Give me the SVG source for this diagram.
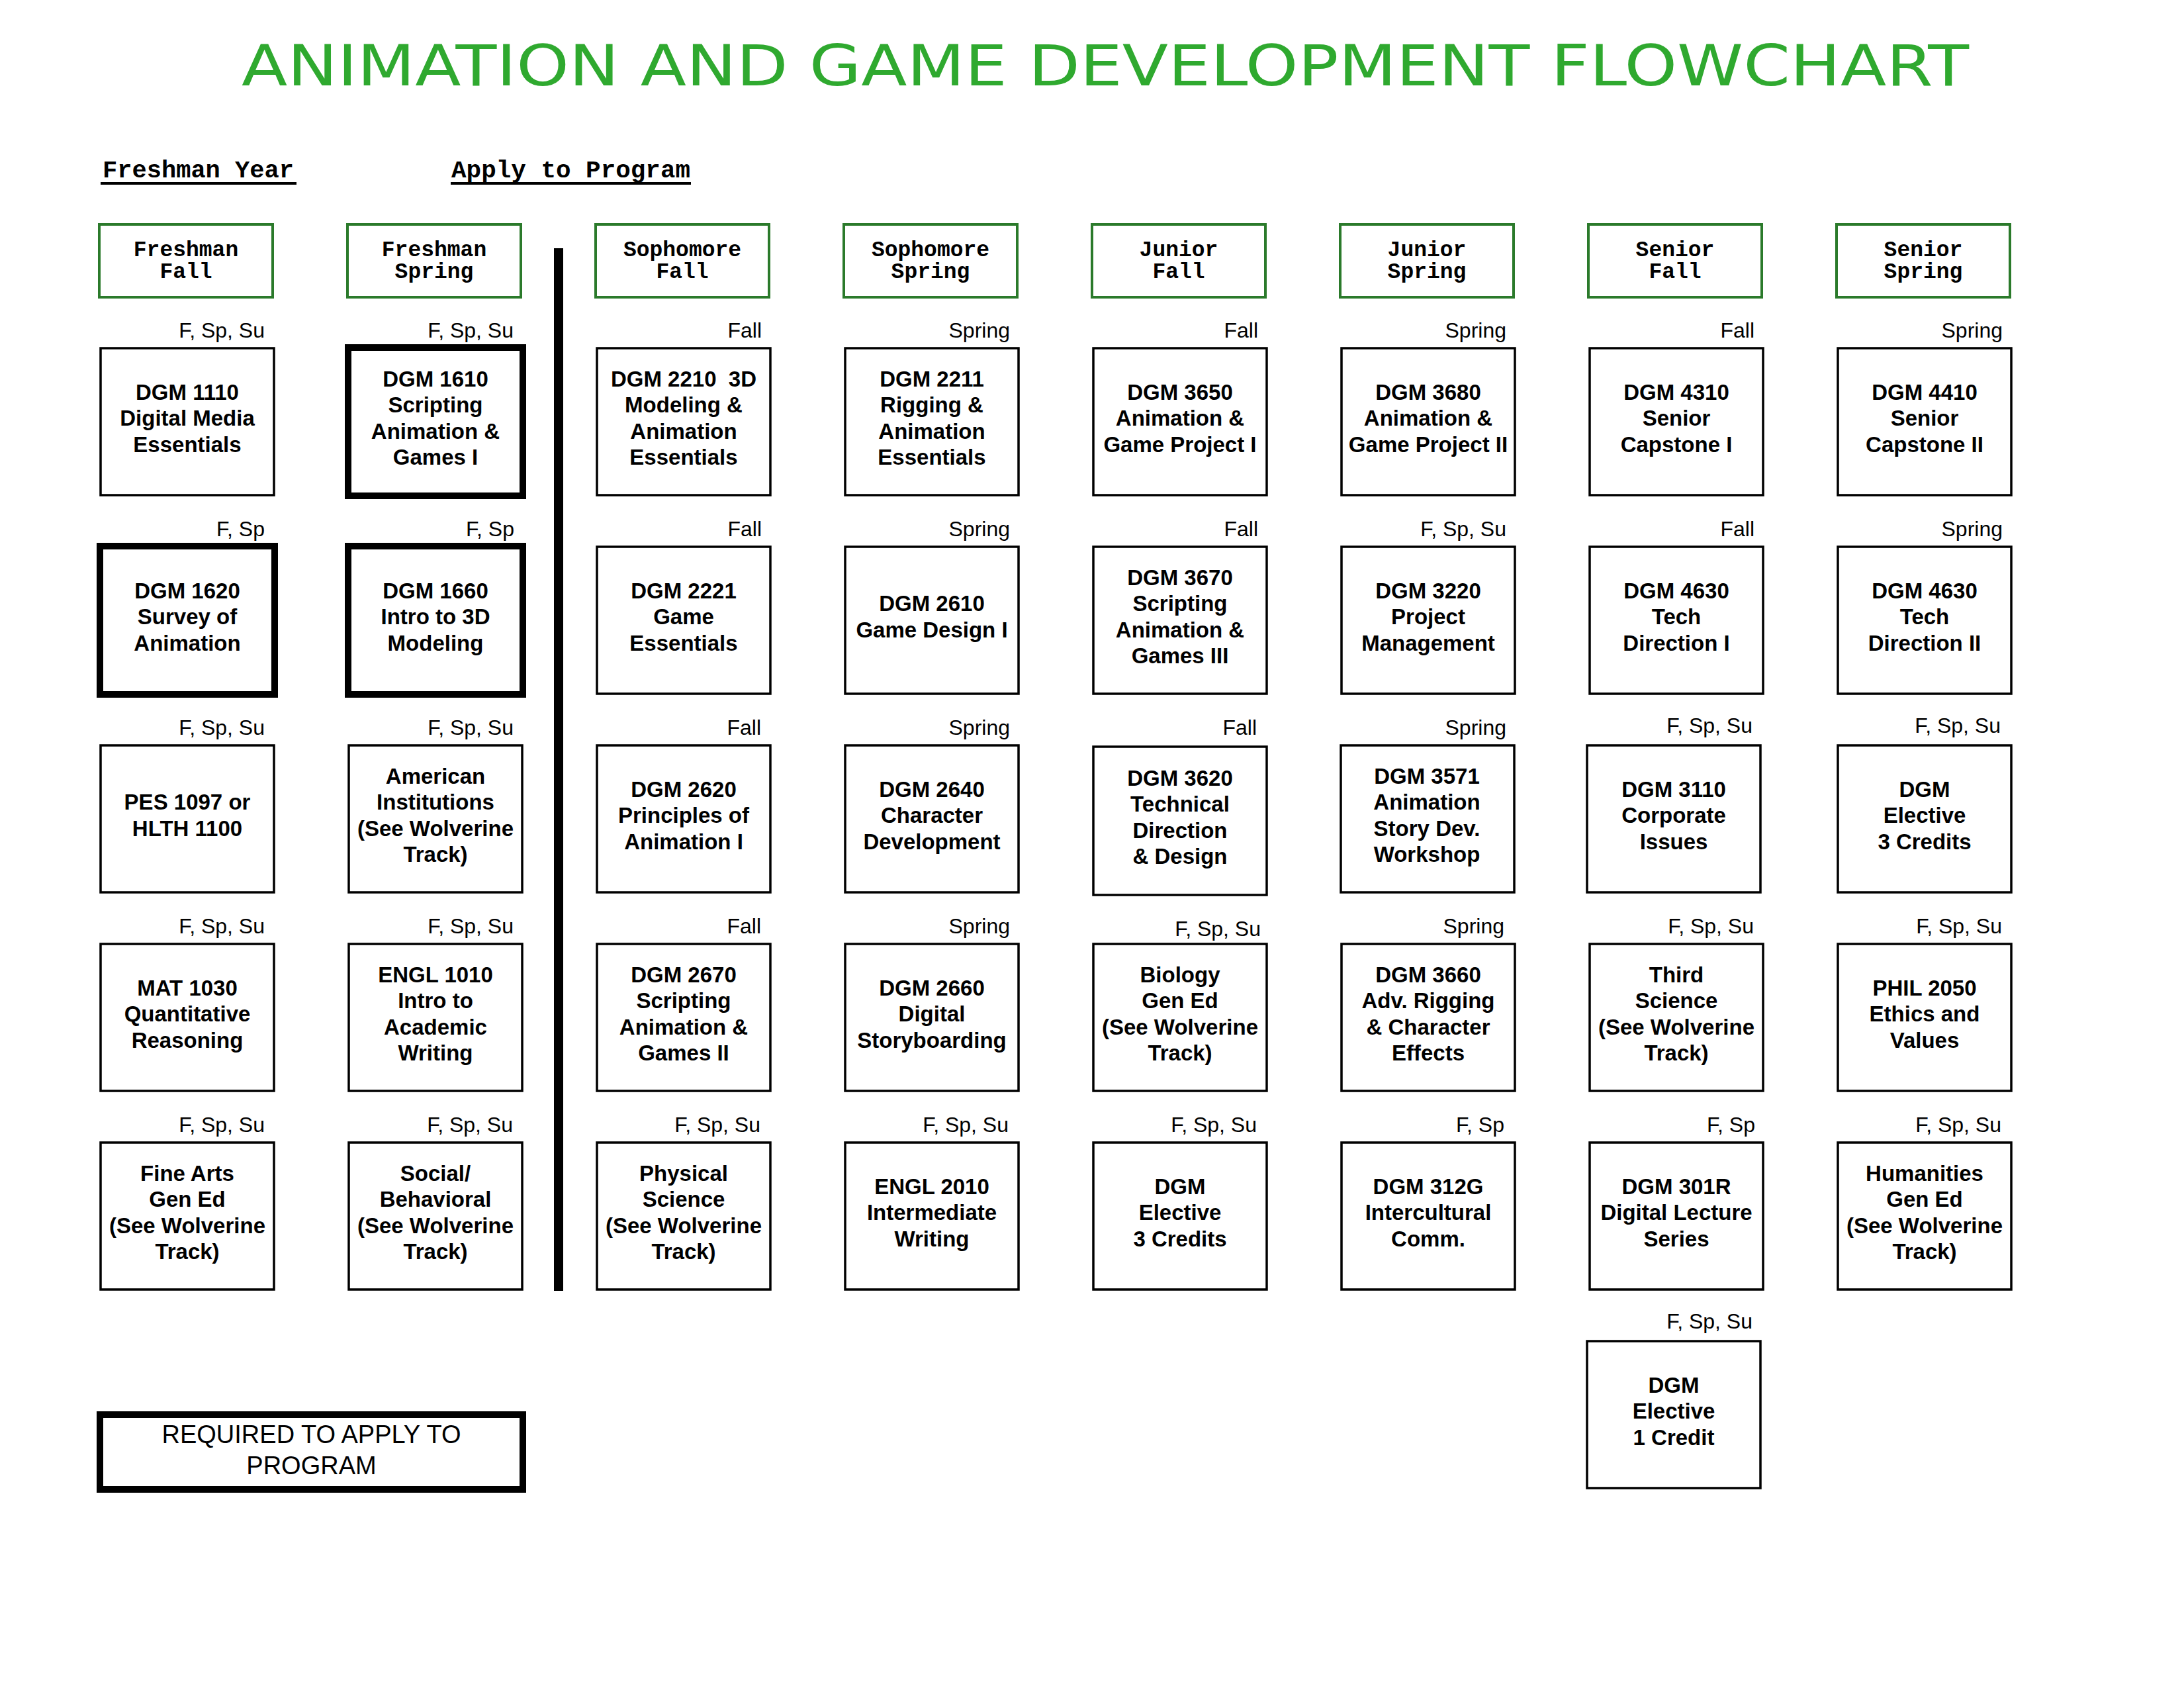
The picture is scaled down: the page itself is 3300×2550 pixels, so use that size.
<svg xmlns="http://www.w3.org/2000/svg" width="3300" height="2550" viewBox="0 0 3300 2550">
<style>
.bg{fill:#ffffff}
.title{font-family:"DejaVu Sans","Liberation Sans",sans-serif;font-size:86px;fill:#2fa92f}
.sec{font-family:"Liberation Mono","DejaVu Sans Mono",monospace;font-weight:bold;font-size:36px;fill:#000}
.hdr{fill:#fff;stroke:#2b7a2b;stroke-width:4}
.ht{font-family:"Liberation Mono","DejaVu Sans Mono",monospace;font-weight:bold;font-size:33px;text-anchor:middle;fill:#000}
.box{fill:#fff;stroke:#000;stroke-width:3.5}
.thick{fill:#fff;stroke:#000;stroke-width:10}
.ct{font-family:"Liberation Sans",Arial,sans-serif;font-weight:bold;font-size:33px;text-anchor:middle;fill:#000}
.sem{font-family:"Liberation Sans",Arial,sans-serif;font-size:32px;text-anchor:end;fill:#000}
.leg{font-family:"Liberation Sans",Arial,sans-serif;font-size:38px;text-anchor:middle;fill:#000}
</style>
<rect class="bg" x="0" y="0" width="3300" height="2550"/>
<text class="title" x="365" y="129" textLength="2610" lengthAdjust="spacingAndGlyphs">ANIMATION AND GAME DEVELOPMENT FLOWCHART</text>

<g id="section-labels">
<text class="sec" x="155" y="268" textLength="289" lengthAdjust="spacingAndGlyphs">Freshman Year</text>
<rect x="152" y="275" width="296" height="4" fill="#000"/>
<text class="sec" x="682" y="268" textLength="361" lengthAdjust="spacingAndGlyphs">Apply to Program</text>
<rect x="681" y="275" width="363" height="4" fill="#000"/>
</g>

<g id="headers">
<g id="h-fresh-fall"><rect class="hdr" x="150" y="339" width="262" height="110"/><text class="ht" x="281" y="387">Freshman<tspan x="281" dy="33">Fall</tspan></text></g>
<g id="h-fresh-spring"><rect class="hdr" x="525" y="339" width="262" height="110"/><text class="ht" x="656" y="387">Freshman<tspan x="656" dy="33">Spring</tspan></text></g>
<g id="h-soph-fall"><rect class="hdr" x="900" y="339" width="262" height="110"/><text class="ht" x="1031" y="387">Sophomore<tspan x="1031" dy="33">Fall</tspan></text></g>
<g id="h-soph-spring"><rect class="hdr" x="1275" y="339" width="262" height="110"/><text class="ht" x="1406" y="387">Sophomore<tspan x="1406" dy="33">Spring</tspan></text></g>
<g id="h-jun-fall"><rect class="hdr" x="1650" y="339" width="262" height="110"/><text class="ht" x="1781" y="387">Junior<tspan x="1781" dy="33">Fall</tspan></text></g>
<g id="h-jun-spring"><rect class="hdr" x="2025" y="339" width="262" height="110"/><text class="ht" x="2156" y="387">Junior<tspan x="2156" dy="33">Spring</tspan></text></g>
<g id="h-sen-fall"><rect class="hdr" x="2400" y="339" width="262" height="110"/><text class="ht" x="2531" y="387">Senior<tspan x="2531" dy="33">Fall</tspan></text></g>
<g id="h-sen-spring"><rect class="hdr" x="2775" y="339" width="262" height="110"/><text class="ht" x="2906" y="387">Senior<tspan x="2906" dy="33">Spring</tspan></text></g>
</g>

<g id="divider"><rect x="837" y="375" width="14" height="1575" fill="#000"/></g>

<g id="connectors"></g>

<!-- Column 1 -->
<g id="dgm1110"><text class="sem" x="400" y="510">F, Sp, Su</text><rect class="box" x="152" y="526" width="262" height="222"/><text class="ct" x="283" y="603.5">DGM 1110<tspan x="283" dy="39.5">Digital Media</tspan><tspan x="283" dy="39.5">Essentials</tspan></text></g>
<g id="dgm1620"><text class="sem" x="400" y="810">F, Sp</text><rect class="thick" x="151" y="825" width="264" height="224"/><text class="ct" x="283" y="903.5">DGM 1620<tspan x="283" dy="39.5">Survey of</tspan><tspan x="283" dy="39.5">Animation</tspan></text></g>
<g id="pes1097"><text class="sem" x="400" y="1110">F, Sp, Su</text><rect class="box" x="152" y="1126" width="262" height="222"/><text class="ct" x="283" y="1223.25">PES 1097 or<tspan x="283" dy="39.5">HLTH 1100</tspan></text></g>
<g id="mat1030"><text class="sem" x="400" y="1410">F, Sp, Su</text><rect class="box" x="152" y="1426" width="262" height="222"/><text class="ct" x="283" y="1503.5">MAT 1030<tspan x="283" dy="39.5">Quantitative</tspan><tspan x="283" dy="39.5">Reasoning</tspan></text></g>
<g id="finearts"><text class="sem" x="400" y="1710">F, Sp, Su</text><rect class="box" x="152" y="1726" width="262" height="222"/><text class="ct" x="283" y="1783.75">Fine Arts<tspan x="283" dy="39.5">Gen Ed</tspan><tspan x="283" dy="39.5">(See Wolverine</tspan><tspan x="283" dy="39.5">Track)</tspan></text></g>

<!-- Column 2 -->
<g id="dgm1610"><text class="sem" x="776" y="510">F, Sp, Su</text><rect class="thick" x="526" y="525" width="264" height="224"/><text class="ct" x="658" y="583.75">DGM 1610<tspan x="658" dy="39.5">Scripting</tspan><tspan x="658" dy="39.5">Animation &amp;</tspan><tspan x="658" dy="39.5">Games I</tspan></text></g>
<g id="dgm1660"><text class="sem" x="777" y="810">F, Sp</text><rect class="thick" x="526" y="825" width="264" height="224"/><text class="ct" x="658" y="903.5">DGM 1660<tspan x="658" dy="39.5">Intro to 3D</tspan><tspan x="658" dy="39.5">Modeling</tspan></text></g>
<g id="american"><text class="sem" x="776" y="1110">F, Sp, Su</text><rect class="box" x="527" y="1126" width="262" height="222"/><text class="ct" x="658" y="1183.75">American<tspan x="658" dy="39.5">Institutions</tspan><tspan x="658" dy="39.5">(See Wolverine</tspan><tspan x="658" dy="39.5">Track)</tspan></text></g>
<g id="engl1010"><text class="sem" x="776" y="1410">F, Sp, Su</text><rect class="box" x="527" y="1426" width="262" height="222"/><text class="ct" x="658" y="1483.75">ENGL 1010<tspan x="658" dy="39.5">Intro to</tspan><tspan x="658" dy="39.5">Academic</tspan><tspan x="658" dy="39.5">Writing</tspan></text></g>
<g id="social"><text class="sem" x="775" y="1710">F, Sp, Su</text><rect class="box" x="527" y="1726" width="262" height="222"/><text class="ct" x="658" y="1783.75">Social/<tspan x="658" dy="39.5">Behavioral</tspan><tspan x="658" dy="39.5">(See Wolverine</tspan><tspan x="658" dy="39.5">Track)</tspan></text></g>

<!-- Column 3 -->
<g id="dgm2210"><text class="sem" x="1151" y="510">Fall</text><rect class="box" x="902" y="526" width="262" height="222"/><text class="ct" x="1033" y="583.75" xml:space="preserve">DGM 2210  3D<tspan x="1033" dy="39.5">Modeling &amp;</tspan><tspan x="1033" dy="39.5">Animation</tspan><tspan x="1033" dy="39.5">Essentials</tspan></text></g>
<g id="dgm2221"><text class="sem" x="1151" y="810">Fall</text><rect class="box" x="902" y="826" width="262" height="222"/><text class="ct" x="1033" y="903.5">DGM 2221<tspan x="1033" dy="39.5">Game</tspan><tspan x="1033" dy="39.5">Essentials</tspan></text></g>
<g id="dgm2620"><text class="sem" x="1150" y="1110">Fall</text><rect class="box" x="902" y="1126" width="262" height="222"/><text class="ct" x="1033" y="1203.5">DGM 2620<tspan x="1033" dy="39.5">Principles of</tspan><tspan x="1033" dy="39.5">Animation I</tspan></text></g>
<g id="dgm2670"><text class="sem" x="1150" y="1410">Fall</text><rect class="box" x="902" y="1426" width="262" height="222"/><text class="ct" x="1033" y="1483.75">DGM 2670<tspan x="1033" dy="39.5">Scripting</tspan><tspan x="1033" dy="39.5">Animation &amp;</tspan><tspan x="1033" dy="39.5">Games II</tspan></text></g>
<g id="physsci"><text class="sem" x="1149" y="1710">F, Sp, Su</text><rect class="box" x="902" y="1726" width="262" height="222"/><text class="ct" x="1033" y="1783.75">Physical<tspan x="1033" dy="39.5">Science</tspan><tspan x="1033" dy="39.5">(See Wolverine</tspan><tspan x="1033" dy="39.5">Track)</tspan></text></g>

<!-- Column 4 -->
<g id="dgm2211"><text class="sem" x="1526" y="510">Spring</text><rect class="box" x="1277" y="526" width="262" height="222"/><text class="ct" x="1408" y="583.75">DGM 2211<tspan x="1408" dy="39.5">Rigging &amp;</tspan><tspan x="1408" dy="39.5">Animation</tspan><tspan x="1408" dy="39.5">Essentials</tspan></text></g>
<g id="dgm2610"><text class="sem" x="1526" y="810">Spring</text><rect class="box" x="1277" y="826" width="262" height="222"/><text class="ct" x="1408" y="923.25">DGM 2610<tspan x="1408" dy="39.5">Game Design I</tspan></text></g>
<g id="dgm2640"><text class="sem" x="1526" y="1110">Spring</text><rect class="box" x="1277" y="1126" width="262" height="222"/><text class="ct" x="1408" y="1203.5">DGM 2640<tspan x="1408" dy="39.5">Character</tspan><tspan x="1408" dy="39.5">Development</tspan></text></g>
<g id="dgm2660"><text class="sem" x="1526" y="1410">Spring</text><rect class="box" x="1277" y="1426" width="262" height="222"/><text class="ct" x="1408" y="1503.5">DGM 2660<tspan x="1408" dy="39.5">Digital</tspan><tspan x="1408" dy="39.5">Storyboarding</tspan></text></g>
<g id="engl2010"><text class="sem" x="1524" y="1710">F, Sp, Su</text><rect class="box" x="1277" y="1726" width="262" height="222"/><text class="ct" x="1408" y="1803.5">ENGL 2010<tspan x="1408" dy="39.5">Intermediate</tspan><tspan x="1408" dy="39.5">Writing</tspan></text></g>

<!-- Column 5 -->
<g id="dgm3650"><text class="sem" x="1901" y="510">Fall</text><rect class="box" x="1652" y="526" width="262" height="222"/><text class="ct" x="1783" y="603.5">DGM 3650<tspan x="1783" dy="39.5">Animation &amp;</tspan><tspan x="1783" dy="39.5">Game Project I</tspan></text></g>
<g id="dgm3670"><text class="sem" x="1901" y="810">Fall</text><rect class="box" x="1652" y="826" width="262" height="222"/><text class="ct" x="1783" y="883.75">DGM 3670<tspan x="1783" dy="39.5">Scripting</tspan><tspan x="1783" dy="39.5">Animation &amp;</tspan><tspan x="1783" dy="39.5">Games III</tspan></text></g>
<g id="dgm3620"><text class="sem" x="1899" y="1110">Fall</text><rect class="box" x="1652" y="1128" width="262" height="224"/><text class="ct" x="1783" y="1186.75">DGM 3620<tspan x="1783" dy="39.5">Technical</tspan><tspan x="1783" dy="39.5">Direction</tspan><tspan x="1783" dy="39.5">&amp; Design</tspan></text></g>
<g id="biology"><text class="sem" x="1905" y="1414">F, Sp, Su</text><rect class="box" x="1652" y="1426" width="262" height="222"/><text class="ct" x="1783" y="1483.75">Biology<tspan x="1783" dy="39.5">Gen Ed</tspan><tspan x="1783" dy="39.5">(See Wolverine</tspan><tspan x="1783" dy="39.5">Track)</tspan></text></g>
<g id="elective-jr"><text class="sem" x="1899" y="1710">F, Sp, Su</text><rect class="box" x="1652" y="1726" width="262" height="222"/><text class="ct" x="1783" y="1803.5">DGM<tspan x="1783" dy="39.5">Elective</tspan><tspan x="1783" dy="39.5">3 Credits</tspan></text></g>

<!-- Column 6 -->
<g id="dgm3680"><text class="sem" x="2276" y="510">Spring</text><rect class="box" x="2027" y="526" width="262" height="222"/><text class="ct" x="2158" y="603.5">DGM 3680<tspan x="2158" dy="39.5">Animation &amp;</tspan><tspan x="2158" dy="39.5">Game Project II</tspan></text></g>
<g id="dgm3220"><text class="sem" x="2276" y="810">F, Sp, Su</text><rect class="box" x="2027" y="826" width="262" height="222"/><text class="ct" x="2158" y="903.5">DGM 3220<tspan x="2158" dy="39.5">Project</tspan><tspan x="2158" dy="39.5">Management</tspan></text></g>
<g id="dgm3571"><text class="sem" x="2276" y="1110">Spring</text><rect class="box" x="2026" y="1126" width="262" height="222"/><text class="ct" x="2156" y="1183.75">DGM 3571<tspan x="2156" dy="39.5">Animation</tspan><tspan x="2156" dy="39.5">Story Dev.</tspan><tspan x="2156" dy="39.5">Workshop</tspan></text></g>
<g id="dgm3660"><text class="sem" x="2273" y="1410">Spring</text><rect class="box" x="2027" y="1426" width="262" height="222"/><text class="ct" x="2158" y="1483.75">DGM 3660<tspan x="2158" dy="39.5">Adv. Rigging</tspan><tspan x="2158" dy="39.5">&amp; Character</tspan><tspan x="2158" dy="39.5">Effects</tspan></text></g>
<g id="dgm312g"><text class="sem" x="2273" y="1710">F, Sp</text><rect class="box" x="2027" y="1726" width="262" height="222"/><text class="ct" x="2158" y="1803.5">DGM 312G<tspan x="2158" dy="39.5">Intercultural</tspan><tspan x="2158" dy="39.5">Comm.</tspan></text></g>

<!-- Column 7 -->
<g id="dgm4310"><text class="sem" x="2651" y="510">Fall</text><rect class="box" x="2402" y="526" width="262" height="222"/><text class="ct" x="2533" y="603.5">DGM 4310<tspan x="2533" dy="39.5">Senior</tspan><tspan x="2533" dy="39.5">Capstone I</tspan></text></g>
<g id="dgm4630a"><text class="sem" x="2651" y="810">Fall</text><rect class="box" x="2402" y="826" width="262" height="222"/><text class="ct" x="2533" y="903.5">DGM 4630<tspan x="2533" dy="39.5">Tech</tspan><tspan x="2533" dy="39.5">Direction I</tspan></text></g>
<g id="dgm3110"><text class="sem" x="2648" y="1107">F, Sp, Su</text><rect class="box" x="2398" y="1126" width="262" height="222"/><text class="ct" x="2529" y="1203.5">DGM 3110<tspan x="2529" dy="39.5">Corporate</tspan><tspan x="2529" dy="39.5">Issues</tspan></text></g>
<g id="thirdsci"><text class="sem" x="2650" y="1410">F, Sp, Su</text><rect class="box" x="2402" y="1426" width="262" height="222"/><text class="ct" x="2533" y="1483.75">Third<tspan x="2533" dy="39.5">Science</tspan><tspan x="2533" dy="39.5">(See Wolverine</tspan><tspan x="2533" dy="39.5">Track)</tspan></text></g>
<g id="dgm301r"><text class="sem" x="2652" y="1710">F, Sp</text><rect class="box" x="2402" y="1726" width="262" height="222"/><text class="ct" x="2533" y="1803.5">DGM 301R<tspan x="2533" dy="39.5">Digital Lecture</tspan><tspan x="2533" dy="39.5">Series</tspan></text></g>
<g id="elective-1cr"><text class="sem" x="2648" y="2007">F, Sp, Su</text><rect class="box" x="2398" y="2026" width="262" height="222"/><text class="ct" x="2529" y="2103.5">DGM<tspan x="2529" dy="39.5">Elective</tspan><tspan x="2529" dy="39.5">1 Credit</tspan></text></g>

<!-- Column 8 -->
<g id="dgm4410"><text class="sem" x="3026" y="510">Spring</text><rect class="box" x="2777" y="526" width="262" height="222"/><text class="ct" x="2908" y="603.5">DGM 4410<tspan x="2908" dy="39.5">Senior</tspan><tspan x="2908" dy="39.5">Capstone II</tspan></text></g>
<g id="dgm4630b"><text class="sem" x="3026" y="810">Spring</text><rect class="box" x="2777" y="826" width="262" height="222"/><text class="ct" x="2908" y="903.5">DGM 4630<tspan x="2908" dy="39.5">Tech</tspan><tspan x="2908" dy="39.5">Direction II</tspan></text></g>
<g id="elective-sr"><text class="sem" x="3023" y="1107">F, Sp, Su</text><rect class="box" x="2777" y="1126" width="262" height="222"/><text class="ct" x="2908" y="1203.5">DGM<tspan x="2908" dy="39.5">Elective</tspan><tspan x="2908" dy="39.5">3 Credits</tspan></text></g>
<g id="phil2050"><text class="sem" x="3025" y="1410">F, Sp, Su</text><rect class="box" x="2777" y="1426" width="262" height="222"/><text class="ct" x="2908" y="1503.5">PHIL 2050<tspan x="2908" dy="39.5">Ethics and</tspan><tspan x="2908" dy="39.5">Values</tspan></text></g>
<g id="humanities"><text class="sem" x="3024" y="1710">F, Sp, Su</text><rect class="box" x="2777" y="1726" width="262" height="222"/><text class="ct" x="2908" y="1783.75">Humanities<tspan x="2908" dy="39.5">Gen Ed</tspan><tspan x="2908" dy="39.5">(See Wolverine</tspan><tspan x="2908" dy="39.5">Track)</tspan></text></g>

<g id="legend"><rect class="thick" x="151" y="2137" width="639" height="113"/><text class="leg" x="470.5" y="2180">REQUIRED TO APPLY TO<tspan x="470.5" dy="47">PROGRAM</tspan></text></g>
</svg>
